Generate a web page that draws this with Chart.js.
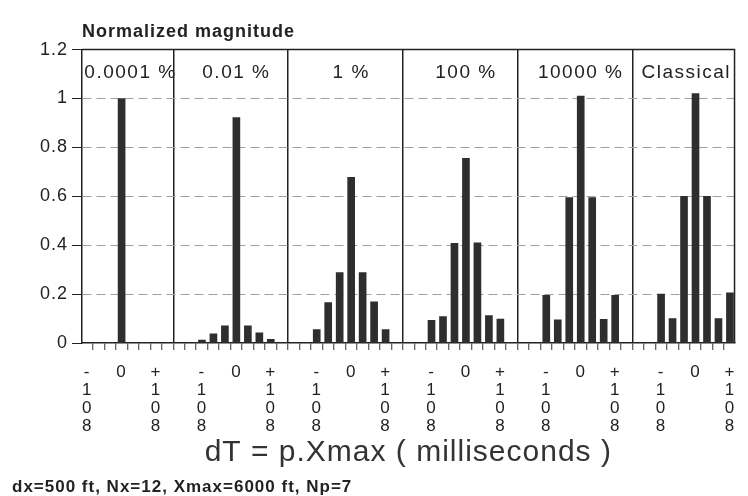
<!DOCTYPE html>
<html>
<head>
<meta charset="utf-8">
<script src="https://cdn.jsdelivr.net/npm/chart.js@4.4.1/dist/chart.umd.min.js"></script>
<style>
  html, body { margin: 0; padding: 0; background: #fff; }
  #wrap { width: 748px; height: 496px; }
</style>
</head>
<body>
<div id="wrap"><canvas id="chart"></canvas></div>
<script>
// ------- Data -------
const panelNames = ["0.0001 %", "0.01 %", "1 %", "100 %", "10000 %", "Classical"];
const lagSteps = [-3, -2, -1, 0, 1, 2, 3]; // dT steps, -108 .. +108 ms
const lagTickSteps = [-3, 0, 3];
const lagTickText = ["-108", "0", "+108"];
const yTicks = [0, 0.2, 0.4, 0.6, 0.8, 1, 1.2];

const mag_0001 = [0, 0, 0, 1.0, 0, 0, 0];
const mag_001 = [0.012, 0.038, 0.07, 0.922, 0.07, 0.042, 0.015];
const mag_1 = [0.055, 0.165, 0.288, 0.678, 0.288, 0.168, 0.055];
const mag_100 = [0.093, 0.108, 0.408, 0.755, 0.41, 0.112, 0.098];
const mag_10000 = [0.195, 0.095, 0.595, 1.01, 0.595, 0.097, 0.195];
const mag_classical = [0.2, 0.1, 0.6, 1.02, 0.6, 0.1, 0.205];

const magnitudes = [mag_0001, mag_001, mag_1, mag_100, mag_10000, mag_classical];
const SLOTS = 10; // width of one panel, in dT steps

// ------- Chart -------
let datasets = magnitudes.map((vals, p) => ({
  label: panelNames[p],
  data: lagSteps.map((k, i) => ({ x: p * SLOTS + k, y: vals[i] })),
  backgroundColor: "#2e2e2e",
  barThickness: 7,
  grouped: false,
}));

const panelPlugin = {
  id: "panels",
  beforeDraw(chart) {
    // the scanned original is set with loose letter spacing
    chart.ctx.letterSpacing = "1px";
  },
  afterDatasetsDraw(chart) {
    let { ctx, chartArea, scales } = chart;
    let x = scales.x;
    ctx.save();
    // frame top + right
    ctx.strokeStyle = "#222";
    ctx.lineWidth = 1.5;
    ctx.beginPath();
    ctx.moveTo(chartArea.left, chartArea.top);
    ctx.lineTo(chartArea.right, chartArea.top);
    ctx.lineTo(chartArea.right, chartArea.bottom);
    ctx.stroke();
    // panel names
    ctx.fillStyle = "#222";
    ctx.font = "19px 'Liberation Sans', Arial, sans-serif";
    ctx.letterSpacing = "1.5px";
    ctx.textAlign = "center";
    ctx.textBaseline = "middle";
    panelNames.forEach((name, p) => {
      let l = Math.max(chartArea.left, x.getPixelForValue(p * SLOTS - SLOTS / 2));
      let r = Math.min(chartArea.right, x.getPixelForValue(p * SLOTS + SLOTS / 2));
      ctx.fillText(name, (l + r) / 2, chartArea.top + 23);
    });
    ctx.restore();
  },
};

new Chart("chart", {
  type: "bar",
  data: { datasets: datasets },
  options: {
    responsive: true,
    maintainAspectRatio: false,
    animation: false,
    layout: { padding: { left: 12, right: 6, top: 0, bottom: 0 } },
    plugins: {
      legend: { display: false },
      tooltip: { enabled: false },
      title: {
        display: true,
        text: "Normalized magnitude",
        align: "start",
        fullSize: false,
        color: "#222",
        font: { family: "'Liberation Sans', Arial, sans-serif", size: 18, weight: "bold", lineHeight: 1.2 },
        padding: { top: 21, bottom: 7 },
      },
      subtitle: {
        display: true,
        position: "bottom",
        align: "start",
        text: "dx=500 ft, Nx=12, Xmax=6000 ft, Np=7",
        color: "#222",
        font: { family: "'Liberation Sans', Arial, sans-serif", size: 17, weight: "bold", lineHeight: 1 },
        padding: { top: 0, bottom: 0 },
      },
    },
    scales: {
      x: {
        type: "linear",
        offset: false,
        min: -3.45,
        max: 5 * SLOTS + 3.4,
        afterFit(scale) {
          scale.height = 136;
        },
        border: { display: true, color: "#222", width: 1.5 },
        grid: {
          color: (c) => (c.tick && Math.round(c.tick.value) % SLOTS === SLOTS / 2 ? "#222" : "rgba(0,0,0,0)"),
          lineWidth: 1.5,
          tickColor: "#333",
          tickLength: 7,
          tickWidth: 1,
        },
        ticks: {
          stepSize: 1,
          includeBounds: false,
          autoSkip: false,
          maxRotation: 0,
          padding: 13,
          color: "#222",
          font: { family: "'Liberation Sans', Arial, sans-serif", size: 17, lineHeight: 18 / 17 },
          callback: (v) => {
            let n = Math.round(v);
            let p = Math.round(n / SLOTS);
            let i = lagTickSteps.indexOf(n - p * SLOTS);
            return i < 0 ? "" : lagTickText[i].split("");
          },
        },
        title: {
          display: true,
          text: "dT = p.Xmax ( milliseconds )",
          color: "#333",
          font: { family: "'Liberation Sans', Arial, sans-serif", size: 30, lineHeight: 1.2 },
          padding: { top: 0, bottom: 8 },
        },
      },
      y: {
        min: 0,
        max: 1.2,
        afterFit(scale) {
          scale.width = 70;
        },
        afterBuildTicks(scale) {
          scale.ticks = yTicks.map((v) => ({ value: v }));
        },
        border: { display: true, color: "#222", width: 1.5, dash: [9, 5] },
        grid: {
          color: (c) => (c.tick && c.tick.value > 0 && c.tick.value < 1.2 ? "#a0a0a0" : "rgba(0,0,0,0)"),
          lineWidth: 1,
          tickColor: "#222",
          tickLength: 10,
          tickBorderDash: [],
        },
        ticks: {
          padding: 4,
          color: "#222",
          font: { family: "'Liberation Sans', Arial, sans-serif", size: 18 },
          callback: (v) => String(Math.round(v * 10) / 10),
        },
      },
    },
  },
  plugins: [panelPlugin],
});
</script>
</body>
</html>
